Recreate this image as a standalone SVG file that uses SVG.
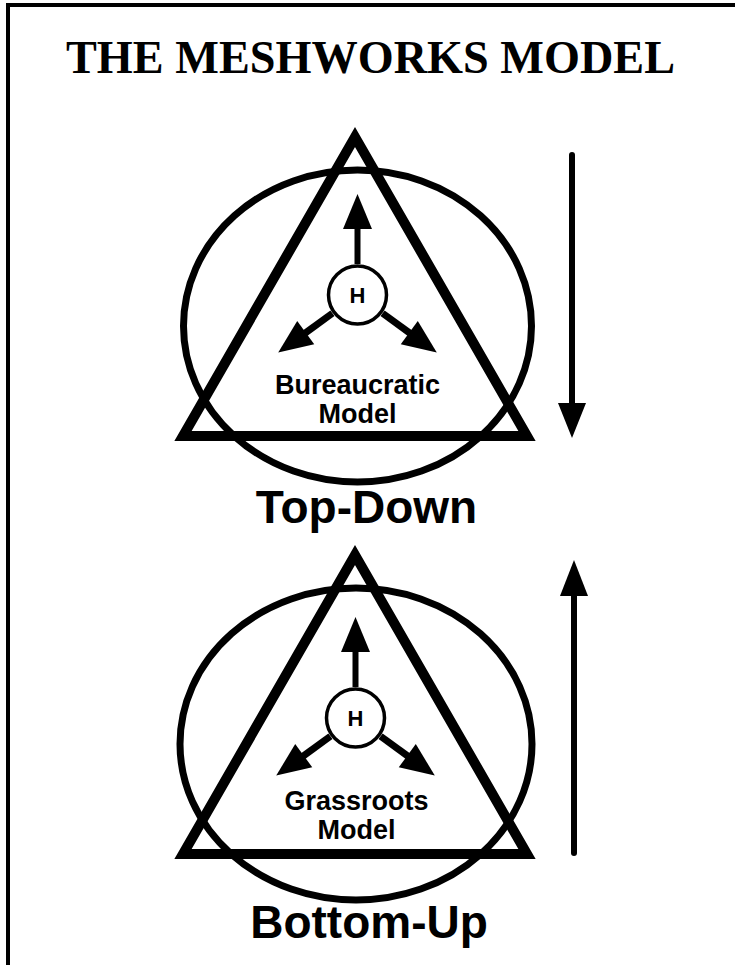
<svg xmlns="http://www.w3.org/2000/svg" xmlns:xlink="http://www.w3.org/1999/xlink" width="735" height="965" viewBox="0 0 735 965">
<style>
.bg{fill:#fff}
.frame{fill:none;stroke:#000;stroke-width:4}
.ell{fill:none;stroke:#000;stroke-width:7}
.tri{fill:none;stroke:#000;stroke-width:10;stroke-linejoin:miter}
.hc{fill:#fff;stroke:#000;stroke-width:3.5}
.shaft{stroke:#000;stroke-width:6;fill:none}
.dshaft{stroke:#000;stroke-width:7;fill:none}
.vshaft{stroke:#000;stroke-width:6;fill:none;stroke-linecap:round}
.head{fill:#000}
.title{font-family:"Liberation Serif","Times New Roman",serif;font-weight:bold;font-size:46px;fill:#000}
.lbl{font-family:"Liberation Sans",Arial,sans-serif;font-weight:bold;fill:#000;text-anchor:middle}
.h{font-size:22px}
.m{font-size:27px}
.big{font-size:46px}
</style>
<defs>
<g id="arr">
<line class="shaft" x1="31" y1="0" x2="68" y2="0"/>
<polygon class="head" points="66,-14.5 101,0 66,14.5"/>
</g>
<g id="darr">
<line class="dshaft" x1="31" y1="0" x2="66" y2="0"/>
<polygon class="head" points="64,-14.5 98,0 64,14.5"/>
</g>
</defs>
<rect class="bg" x="0" y="0" width="735" height="965"/>
<path class="frame" d="M8,970 V5 H740"/>
<text class="title" x="66" y="72.5" textLength="609" lengthAdjust="spacingAndGlyphs">THE MESHWORKS MODEL</text>

<g id="top-model">
<ellipse class="ell" cx="357.5" cy="326" rx="174" ry="156"/>
<polygon class="tri" points="355,137 183,436 527,436"/>
<g id="top-h">
<circle class="hc" cx="357.5" cy="295" r="29"/>
<text class="lbl h" x="357.5" y="303">H</text>
</g>
<text class="lbl m" x="357.5" y="394">Bureaucratic</text>
<text class="lbl m" x="357.5" y="423">Model</text>
</g>
<text id="top-down" class="lbl big" x="366.5" y="523">Top-Down</text>

<g id="bottom-model">
<ellipse class="ell" cx="356" cy="744" rx="176" ry="156"/>
<polygon class="tri" points="355,555 183,854 527,854"/>
<g id="bottom-h">
<circle class="hc" cx="355.5" cy="718" r="29"/>
<text class="lbl h" x="355.5" y="726">H</text>
</g>
<text class="lbl m" x="356.5" y="810">Grassroots</text>
<text class="lbl m" x="356.5" y="839">Model</text>
</g>
<text id="bottom-up" class="lbl big" x="369" y="938">Bottom-Up</text>

<g id="connectors">
<use xlink:href="#arr" transform="translate(357.5,295) rotate(-90)"/>
<use xlink:href="#darr" transform="translate(357.5,295) rotate(144)"/>
<use xlink:href="#darr" transform="translate(357.5,295) rotate(36)"/>
<use xlink:href="#arr" transform="translate(355.5,718) rotate(-90)"/>
<use xlink:href="#darr" transform="translate(355.5,718) rotate(144)"/>
<use xlink:href="#darr" transform="translate(355.5,718) rotate(36)"/>
<line class="vshaft" x1="572" y1="155" x2="572" y2="405"/>
<polygon class="head" points="558,403 586,403 572,438"/>
<line class="vshaft" x1="574" y1="853" x2="574" y2="594"/>
<polygon class="head" points="560,596 588,596 574,560"/>
</g>
</svg>
